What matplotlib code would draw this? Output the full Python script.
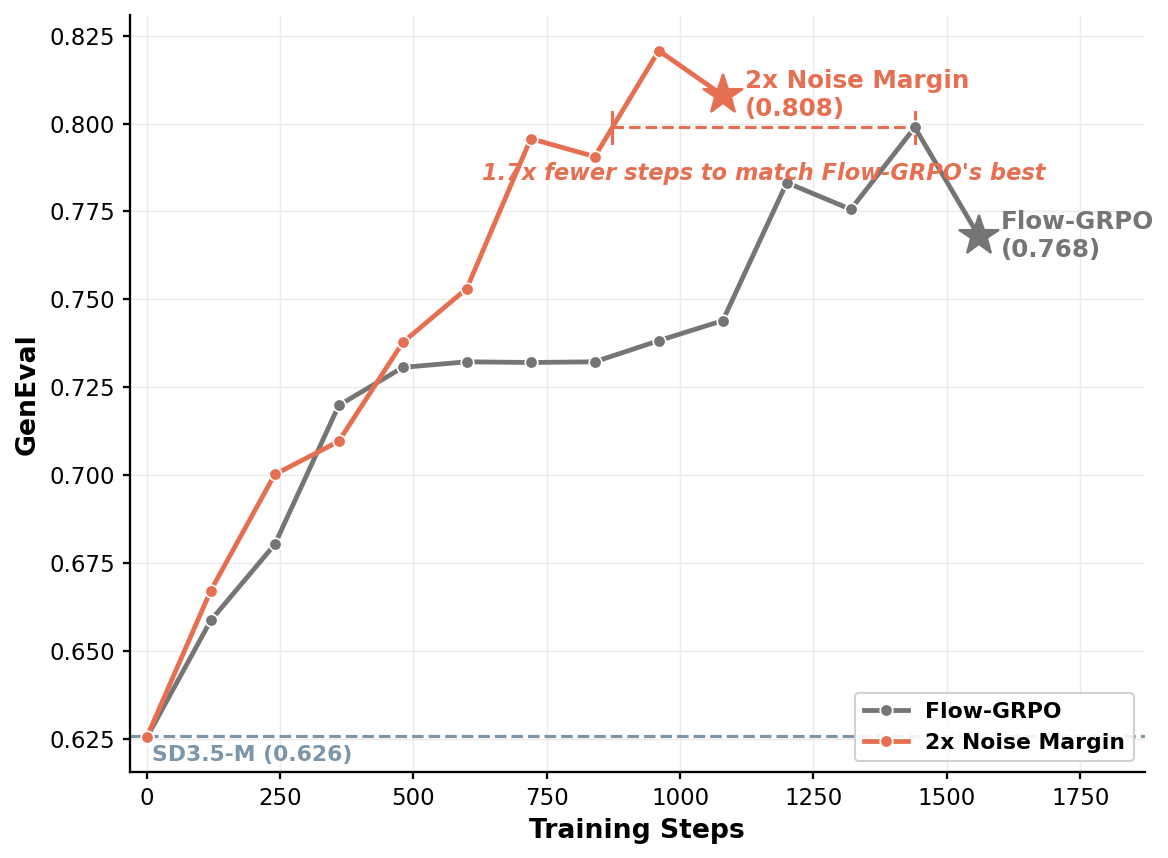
import numpy as np
import matplotlib
matplotlib.use("Agg")
import matplotlib.pyplot as plt

steps_flow = [0, 120, 240, 360, 480, 600, 720, 840, 960, 1080, 1200, 1320, 1440, 1560]
flow_grpo = [0.6255, 0.6588, 0.6804, 0.7199, 0.7307, 0.7323, 0.7321, 0.7323, 0.7383, 0.7440, 0.7832, 0.7756, 0.7989, 0.768]
steps_noise = [0, 120, 240, 360, 480, 600, 720, 840, 960, 1080]
noise_margin = [0.6256, 0.6673, 0.7003, 0.7097, 0.7378, 0.7531, 0.7957, 0.7906, 0.8207, 0.808]
baseline = 0.626
match_step = 872

c_gray = "#757575"
c_orange = "#E76F51"
c_base = "#7B96A8"

fig, ax = plt.subplots(figsize=(7.787, 5.72), dpi=150)

ax.axhline(baseline, color=c_base, ls="--", lw=1.5, zorder=1)
ax.text(10, baseline - 0.0025, "SD3.5-M (0.626)", color=c_base, fontsize=10.5,
        fontweight="bold", va="top", ha="left")

ax.plot(steps_flow[:-1], flow_grpo[:-1], color=c_gray, lw=2.3, marker="o", ms=6,
        mec="white", mew=0.8, label="Flow-GRPO", zorder=3)
ax.plot(steps_flow[-2:], flow_grpo[-2:], color=c_gray, lw=2.3, zorder=3)
ax.plot(steps_noise[:-1], noise_margin[:-1], color=c_orange, lw=2.3, marker="o", ms=6,
        mec="white", mew=0.8, label="2x Noise Margin", zorder=4)
ax.plot(steps_noise[-2:], noise_margin[-2:], color=c_orange, lw=2.3, zorder=4)

ax.plot(steps_flow[-1], flow_grpo[-1], marker="*", ms=20, color=c_gray, zorder=5)
ax.plot(steps_noise[-1], noise_margin[-1], marker="*", ms=20, color=c_orange, zorder=5)

ax.text(steps_flow[-1] + 42, flow_grpo[-1], "Flow-GRPO\n(0.768)", color=c_gray,
        fontsize=11.8, fontweight="bold", va="center", ha="left")
ax.text(steps_noise[-1] + 42, noise_margin[-1], "2x Noise Margin\n(0.808)", color=c_orange,
        fontsize=11.8, fontweight="bold", va="center", ha="left")

best = max(flow_grpo)
ax.plot([match_step, 1440], [best, best], color=c_orange, ls="--", lw=1.5, zorder=2)
ax.plot([match_step, match_step], [best - 0.0045, best + 0.0045], color=c_orange, lw=1.5)
ax.plot([1440, 1440], [best - 0.0045, best + 0.0045], color=c_orange, lw=1.5)
ax.text((match_step + 1440) / 2, best - 0.013, "1.7x fewer steps to match Flow-GRPO's best",
        color=c_orange, fontsize=10.8, fontweight="bold", style="italic", ha="center", va="center")

ax.set_xlim(-32, 1871)
ax.set_ylim(0.6157, 0.8307)
ax.set_xticks([0, 250, 500, 750, 1000, 1250, 1500, 1750])
ax.set_yticks([0.625, 0.650, 0.675, 0.700, 0.725, 0.750, 0.775, 0.800, 0.825])
ax.yaxis.set_major_formatter(matplotlib.ticker.FormatStrFormatter("%.3f"))
ax.tick_params(labelsize=11, width=1.1)
ax.set_xlabel("Training Steps", fontsize=12.8, fontweight="bold")
ax.set_ylabel("GenEval", fontsize=12.8, fontweight="bold")
ax.grid(True, color="#ebebeb", lw=0.7)
ax.set_axisbelow(True)
ax.spines["top"].set_visible(False)
ax.spines["right"].set_visible(False)
for s in ["left", "bottom"]:
    ax.spines[s].set_linewidth(1.1)

leg = ax.legend(loc="lower right", prop={"weight": "bold", "size": 10.5}, framealpha=0.9)

fig.subplots_adjust(left=0.111, right=0.98, top=0.982, bottom=0.1)
fig.savefig("out.png", dpi=150)
